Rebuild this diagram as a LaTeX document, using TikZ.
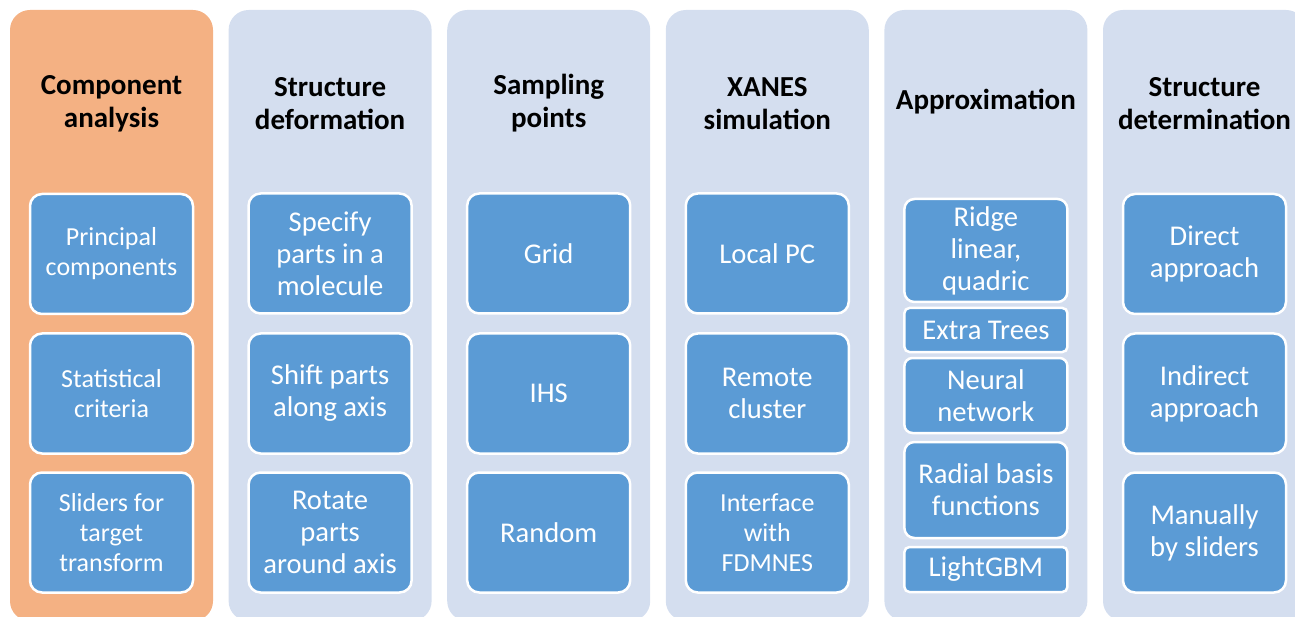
\documentclass[tikz,border=0pt]{standalone}
\usepackage{fontspec}
\setmainfont{Carlito}
\definecolor{stageorange}{HTML}{F4B183}
\definecolor{stagepale}{HTML}{D4DEEF}
\definecolor{itemblue}{HTML}{5B9BD5}
\tikzset{
  stagecol/.style={draw=none, rounded corners=20pt, minimum width=203pt,
    minimum height=611pt, inner sep=0pt},
  stagetitle/.style={text=black, align=center, inner sep=0pt,
    font=\fontsize{29}{33}\selectfont\bfseries},
  item/.style={draw=white, line width=2.5pt, fill=itemblue, text=white,
    minimum width=163pt, inner sep=0pt, align=center,
    font=\fontsize{28.6}{32}\selectfont},
  itemsmall/.style={item, font=\fontsize{26}{30}\selectfont},
  tall/.style={minimum height=120pt, rounded corners=12pt},
}
\begin{document}
\begin{tikzpicture}[x=1pt,y=-1pt]
\useasboundingbox (0,0) rectangle (1295,617);
\clip (0,0) rectangle (1295,617);
% stage columns
\node[stagecol, fill=stageorange] (c1) at (111.5,315.5) {};
\node[stagecol, fill=stagepale] (c2) at (330.1,315.5) {};
\node[stagecol, fill=stagepale] (c3) at (548.7,315.5) {};
\node[stagecol, fill=stagepale] (c4) at (767.3,315.5) {};
\node[stagecol, fill=stagepale] (c5) at (985.9,315.5) {};
\node[stagecol, fill=stagepale] (c6) at (1204.5,315.5) {};
% stage titles
\node[stagetitle] (t1) at (111.5,103.5) {Component\\analysis};
\node[stagetitle] (t2) at (330.1,103.5) {Structure\\deformation};
\node[stagetitle] (t3) at (548.7,103.5) {Sampling\\points};
\node[stagetitle] (t4) at (767.3,103.5) {XANES\\simulation};
\node[stagetitle] (t5) at (985.9,102) {Approximation};
\node[stagetitle] (t6) at (1204.5,103.5) {Structure\\determination};
% component analysis
\node[itemsmall, tall] (a1) at (111.5,254) {Principal\\components};
\node[itemsmall, tall] (a2) at (111.5,393.5) {Statistical\\criteria};
\node[itemsmall, tall] (a3) at (111.5,532.5) {Sliders for\\target\\transform};
% structure deformation
\node[item, tall] (b1) at (330.1,253.5) {Specify\\parts in a\\molecule};
\node[item, tall] (b2) at (330.1,393.5) {Shift parts\\along axis};
\node[item, tall] (b3) at (330.1,532.5) {Rotate\\parts\\around axis};
% sampling points
\node[item, tall] (s1) at (548.7,253.5) {Grid};
\node[item, tall] (s2) at (548.7,393.5) {IHS};
\node[item, tall] (s3) at (548.7,532.5) {Random};
% XANES simulation
\node[item, tall] (x1) at (767.3,253.5) {Local PC};
\node[item, tall] (x2) at (767.3,393.5) {Remote\\cluster};
\node[itemsmall, tall] (x3) at (767.3,532.5) {Interface\\with\\FDMNES};
% approximation
\node[item, minimum height=103pt, rounded corners=10pt] (p1) at (985.9,250.5) {Ridge\\linear,\\quadric};
\node[item, minimum height=44pt, rounded corners=5pt] (p2) at (985.9,330) {Extra Trees};
\node[item, minimum height=75pt, rounded corners=8pt] (p3) at (985.9,395.5) {Neural\\network};
\node[item, minimum height=96pt, rounded corners=10pt] (p4) at (985.9,490) {Radial basis\\functions};
\node[item, minimum height=45pt, rounded corners=5pt] (p5) at (985.9,569.5) {LightGBM};
% structure determination
\node[item, tall] (d1) at (1204.5,254) {Direct\\approach};
\node[item, tall] (d2) at (1204.5,393.5) {Indirect\\approach};
\node[item, tall] (d3) at (1204.5,532.5) {Manually\\by sliders};
\end{tikzpicture}
\end{document}
